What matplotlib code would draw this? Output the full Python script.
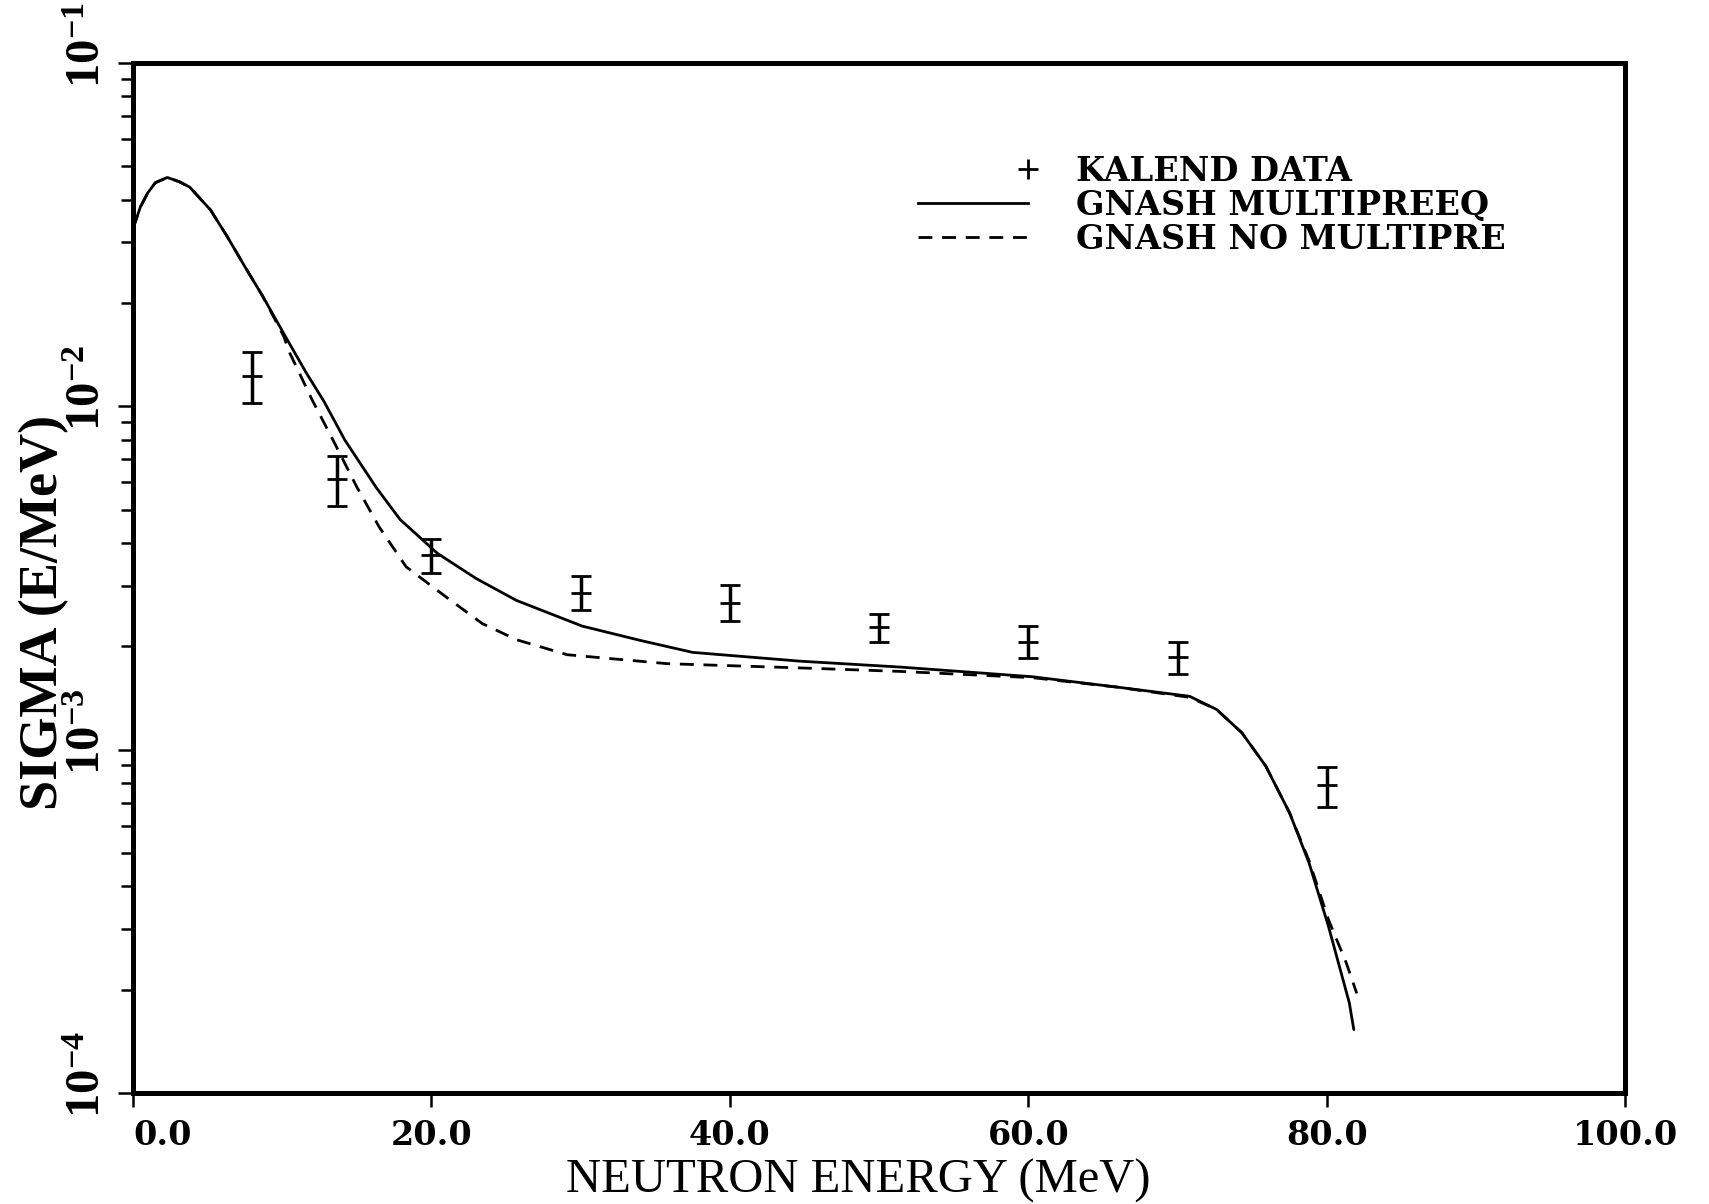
import numpy as np
import matplotlib
matplotlib.use("Agg")
import matplotlib.pyplot as plt
import matplotlib.transforms as mtransforms
from matplotlib.lines import Line2D
from matplotlib.legend_handler import HandlerLine2D

plt.rcParams['font.family'] = ['Liberation Serif', 'DejaVu Serif']
plt.rcParams['mathtext.fontset'] = 'custom'
plt.rcParams['mathtext.rm'] = 'Liberation Serif'
plt.rcParams['mathtext.bf'] = 'Liberation Serif:bold'

# KALEND data
data_e = [8.0, 13.7, 20.0, 30.0, 40.0, 50.0, 60.0, 70.0, 80.0]
data_sig = [0.01228, 0.00613, 0.00370, 0.00286, 0.00268, 0.00227, 0.00206, 0.00186, 0.00079]
data_hi = [0.01442, 0.00715, 0.00410, 0.00320, 0.00302, 0.00248, 0.00229, 0.00206, 0.00089]
data_lo = [0.01022, 0.00511, 0.00327, 0.00255, 0.00237, 0.00206, 0.00185, 0.00166, 0.00068]

# GNASH with multi-preequilibrium
multi_e = [0.0, 0.5, 1.0, 1.5, 2.3, 3.1, 3.8, 5.2, 6.3, 7.5, 8.7, 10.1, 11.6, 12.8,
           14.2, 16.3, 17.9, 20.4, 23.0, 25.7, 30.1, 34.0, 37.5, 44.7, 51.4, 60.3,
           66.0, 70.8, 72.6, 74.3, 75.9, 77.5, 78.8, 80.1, 81.5, 81.8]
multi_sig = [0.0329, 0.0381, 0.0419, 0.0448, 0.0464, 0.0451, 0.0435, 0.0373, 0.0313,
             0.0255, 0.0209, 0.0163, 0.01254, 0.01033, 0.00797, 0.0058, 0.00468,
             0.00373, 0.00315, 0.00272, 0.00229, 0.00208, 0.00192, 0.00181, 0.00174,
             0.00163, 0.00152, 0.00143, 0.00131, 0.00112, 0.000896, 0.000654,
             0.000468, 0.000306, 0.000183, 0.000153]

# GNASH without multi-preequilibrium
nomulti_e = [0.0, 0.5, 1.0, 1.5, 2.3, 3.1, 3.8, 5.2, 6.3, 7.5, 8.7, 10.1, 10.5, 12.0,
             13.4, 15.0, 16.5, 18.3, 21.0, 23.4, 25.7, 29.1, 35.8, 44.7, 51.4, 60.3,
             66.0, 70.8, 72.6, 74.3, 75.9, 77.5, 78.8, 80.1, 81.3, 82.0]
nomulti_sig = [0.0329, 0.0381, 0.0419, 0.0448, 0.0464, 0.0451, 0.0435, 0.0373, 0.0313,
               0.0255, 0.0209, 0.0160, 0.01432, 0.01045, 0.00798, 0.00582, 0.00445,
               0.00341, 0.00278, 0.00233, 0.00209, 0.00189, 0.00178, 0.00173, 0.00169,
               0.00162, 0.00152, 0.00142, 0.00131, 0.00112, 0.000896, 0.000654,
               0.000475, 0.00032, 0.000239, 0.000195]

xticks = [0, 20, 40, 60, 80, 100]
yticks = [1e-4, 1e-3, 1e-2, 1e-1]
ytick_labels = [r'$\mathbf{10^{-4}}$', r'$\mathbf{10^{-3}}$',
                r'$\mathbf{10^{-2}}$', r'$\mathbf{10^{-1}}$']
legend_labels = ['KALEND DATA', 'GNASH MULTIPREEQ', 'GNASH NO MULTIPRE']


class PlusAtRight(HandlerLine2D):
    # marker sits just past the right end of the handle, like the original
    def get_xdata(self, legend, xdescent, ydescent, width, height, fontsize):
        xend = -xdescent + width
        return np.array([xend, xend]), np.array([xend + 0.25 * fontsize])


fig = plt.figure(figsize=(17.09, 12.04), dpi=100)
ax = fig.add_axes([0.0778, 0.0922, 0.8733, 0.8555])

ax.plot(multi_e, multi_sig, color='black', lw=2.0, solid_capstyle='round')
ax.plot(nomulti_e, nomulti_sig, color='black', lw=2.0, ls=(0, (5, 3.5)))

d = np.array(data_sig)
yerr = [d - np.array(data_lo), np.array(data_hi) - d]
ax.errorbar(data_e, data_sig, yerr=yerr, fmt='+', color='black', ms=15, mew=2,
            elinewidth=2.5, capsize=7.5, capthick=2)

ax.set_yscale('log')
ax.set_xlim(0, 100)
ax.set_ylim(1e-4, 1e-1)

for s in ax.spines.values():
    s.set_linewidth(3.6)

ax.set_xticks(xticks)
xlabels = ax.set_xticklabels(['%.1f' % v for v in xticks], fontsize=24,
                             fontweight='bold', family='DejaVu Serif')
xlabels[0].set_horizontalalignment('left')
ax.tick_params(axis='x', which='major', direction='out', length=10, width=1.8, pad=9)
ax.tick_params(axis='x', which='minor', bottom=False)

ax.set_yticks(yticks)
ax.set_yticklabels([])
ax.yaxis.set_minor_locator(matplotlib.ticker.LogLocator(base=10, subs=np.arange(2, 10)))
ax.yaxis.set_minor_formatter(matplotlib.ticker.NullFormatter())
ax.tick_params(axis='y', which='major', direction='out', length=11, width=1.8)
ax.tick_params(axis='y', which='minor', direction='out', length=8.5, width=1.8)

trans = mtransforms.offset_copy(ax.get_yaxis_transform(), fig=fig, x=0, y=18, units='dots')
for v, lab in zip(yticks, ytick_labels):
    ax.text(-0.0155, v, lab, transform=trans, rotation=90, ha='right', va='center',
            fontsize=35)

ax.set_xlabel('NEUTRON ENERGY (MeV)', fontsize=35)
ax.xaxis.set_label_coords(0.486, -0.064)
ax.set_ylabel('SIGMA (E/MeV)', fontsize=39, fontweight='bold')
ax.yaxis.set_label_coords(-0.043, 0.467)

plus_proxy = Line2D([], [], marker='+', ls='none', color='black', ms=15, mew=2)
solid_proxy = Line2D([], [], color='black', lw=2.0)
dash_proxy = Line2D([], [], color='black', lw=2.0, ls=(0, (5, 3.5)))
ax.legend([plus_proxy, solid_proxy, dash_proxy], legend_labels,
          handler_map={plus_proxy: PlusAtRight()},
          loc='upper left', bbox_to_anchor=(0.526, 0.911), frameon=False,
          borderpad=0, borderaxespad=0, handlelength=3.3, handletextpad=1.45,
          labelspacing=0.03,
          prop={'family': 'DejaVu Serif', 'size': 24, 'weight': 'bold'})

fig.savefig('out.png', dpi=100)
